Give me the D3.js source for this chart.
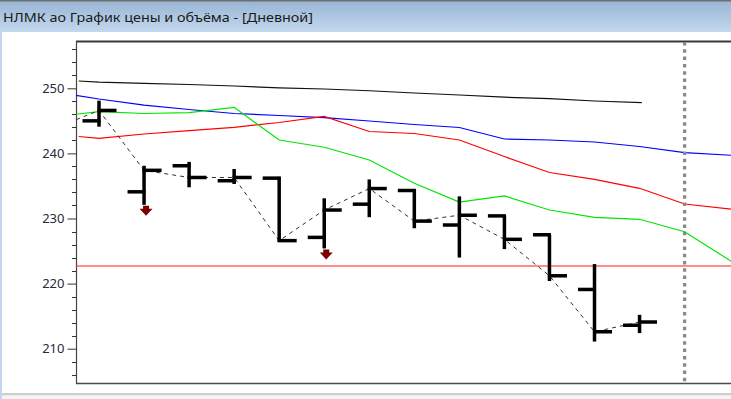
<!DOCTYPE html>
<html>
<head>
<meta charset="utf-8">
<script src="https://cdn.jsdelivr.net/npm/d3@7"></script>
<style>
  body { margin: 0; background: #fff; }
  svg { display: block; }
</style>
</head>
<body>
<div id="chart"></div>
<script>
// bars (daily OHLC), index 0..12
var barIdx = [0, 1, 2, 3, 4, 5, 6, 7, 8, 9, 10, 11, 12]
var open  = [245.0, 234.1, 238.1, 235.8, 236.2, 227.1, 232.2, 234.3, 229.0, 230.4, 227.5, 219.1, 213.6]
var high  = [248.1, 238.1, 238.7, 237.6, 236.4, 233.1, 236.0, 234.5, 233.4, 230.5, 227.5, 223.0, 215.2]
var low   = [244.1, 232.1, 234.8, 235.3, 226.4, 225.4, 230.2, 228.5, 224.0, 225.3, 220.4, 211.1, 212.4]
var close = [246.6, 237.4, 236.3, 236.3, 226.6, 231.3, 234.6, 229.6, 230.5, 226.8, 221.2, 212.6, 214.1]
var prevClose = 243.8

// signal arrows under bars
var sellIdx = [1, 5]

// indicator lines
var idxBlue  = [-0.55, 0, 1, 2, 3, 4, 5, 6, 7, 8, 9, 10, 11, 12, 13, 14.05]
var blue     = [248.97, 248.36, 247.43, 246.74, 246.13, 245.82, 245.51, 244.98, 244.44, 243.98, 242.21, 242.06, 241.75, 241.06, 240.11, 239.71]
var green    = [245.98, 246.41, 246.13, 246.25, 247.08, 242.06, 240.94, 238.99, 235.41, 232.53, 233.46, 231.31, 230.18, 229.88, 227.97, 223.36]
var idxRed   = [-0.45, 0, 1, 2, 3, 4, 5, 6, 7, 8, 9, 10, 11, 12, 13, 14.05]
var red      = [242.60, 242.32, 242.98, 243.49, 244.01, 244.75, 245.67, 243.36, 243.06, 242.06, 239.52, 237.07, 236.02, 234.64, 232.23, 231.41]
var idxBlack = [-0.45, 0, 1, 2, 3, 4, 5, 6, 7, 8, 9, 10, 11, 12.05]
var black    = [251.12, 250.94, 250.77, 250.58, 250.35, 250.08, 249.89, 249.62, 249.28, 248.97, 248.63, 248.40, 248.05, 247.79]

var levelLine = 222.7
var todayIdx = 13
var yLabels = [210, 220, 230, 240, 250]
var yMinor = [206, 208, 212, 214, 216, 218, 222, 224, 226, 228, 232, 234, 236, 238, 242, 244, 246, 248, 252, 254, 256]

var title = "НЛМК ао График цены и объёма - [Дневной]"

var W = 731, H = 399
var plot = { left: 76, top: 42, right: 731, bottom: 383 }

var svg = d3.select("#chart").append("svg")
    .attr("width", W)
    .attr("height", H)

// window chrome
var defs = svg.append("defs")
var grad = defs.append("linearGradient").attr("id", "tb").attr("x1", 0).attr("y1", 0).attr("x2", 0).attr("y2", 1)
grad.append("stop").attr("offset", "0%").attr("stop-color", "#97b4d4")
grad.append("stop").attr("offset", "100%").attr("stop-color", "#c3d8ee")
defs.append("clipPath").attr("id", "clip")
    .append("rect")
    .attr("x", plot.left).attr("y", plot.top)
    .attr("width", plot.right - plot.left).attr("height", plot.bottom - plot.top)

svg.append("rect").attr("x", 0).attr("y", 0).attr("width", W).attr("height", 32).attr("fill", "url(#tb)")
svg.append("rect").attr("x", 0).attr("y", 0).attr("width", W).attr("height", 1.5).attr("fill", "#6f6f6f")
svg.append("rect").attr("x", 0).attr("y", 32).attr("width", 2).attr("height", H - 32).attr("fill", "#c3d8ee")
svg.append("rect").attr("x", 2).attr("y", 393).attr("width", W - 2).attr("height", 2.5).attr("fill", "#cdcdcd")
svg.append("rect").attr("x", 2).attr("y", 395.5).attr("width", W - 2).attr("height", 4).attr("fill", "#f4f4f4")

svg.append("text")
    .attr("x", 3)
    .attr("y", 22)
    .attr("font-family", "'Noto Sans', sans-serif")
    .attr("font-size", 13)
    .attr("fill", "#1a1a1a")
    .attr("textLength", 310)
    .attr("lengthAdjust", "spacingAndGlyphs")
    .text(title)

var x = d3.scaleLinear()
    .domain([0, 13])
    .range([99, 684.6])
var y = d3.scaleLinear()
    .domain([210, 250])
    .range([348.7, 88.3])

// axis frame
svg.append("line")
    .attr("x1", plot.left).attr("x2", W)
    .attr("y1", plot.top - 0.5).attr("y2", plot.top - 0.5)
    .attr("stroke", "#3a3a3a").attr("stroke-width", 2)
svg.append("line")
    .attr("x1", plot.left).attr("x2", W)
    .attr("y1", plot.bottom + 0.5).attr("y2", plot.bottom + 0.5)
    .attr("stroke", "#4a4a4a").attr("stroke-width", 1.5)

var yAxis = d3.axisLeft(y)
    .tickValues(yLabels)
    .tickSize(9)
    .tickPadding(3)
    .tickFormat(d3.format("d"))
var gy = svg.append("g")
    .attr("transform", "translate(" + (plot.left + 0.5) + ",0)")
    .call(yAxis)
gy.select(".domain").remove()
gy.selectAll(".tick line").attr("stroke", "#333")
gy.selectAll(".tick text")
    .attr("font-family", "'Noto Sans', sans-serif")
    .attr("font-size", 13)
    .attr("fill", "#2a2a3a")
svg.append("line")
    .attr("x1", plot.left + 0.5).attr("x2", plot.left + 0.5)
    .attr("y1", plot.top - 1).attr("y2", plot.bottom + 1)
    .attr("stroke", "#444").attr("stroke-width", 1.2)
svg.append("g").selectAll("line")
    .data(yMinor)
    .join("line")
    .attr("x1", plot.left - 4).attr("x2", plot.left)
    .attr("y1", function (d) { return Math.round(y(d)) + 0.5 })
    .attr("y2", function (d) { return Math.round(y(d)) + 0.5 })
    .attr("stroke", "#333")

var g = svg.append("g").attr("clip-path", "url(#clip)")

// level line
g.append("line")
    .attr("x1", plot.left).attr("x2", W)
    .attr("y1", y(levelLine)).attr("y2", y(levelLine))
    .attr("stroke", "#ff1a1a").attr("stroke-width", 1.2)

function drawLine(idx, vals, color) {
    var line = d3.line()
        .x(function (d, i) { return x(idx[i]) })
        .y(function (d) { return y(d) })
    g.append("path")
        .datum(vals)
        .attr("d", line)
        .attr("fill", "none")
        .attr("stroke", color)
        .attr("stroke-width", 1.2)
}
drawLine(idxBlack, black, "#111")
drawLine(idxBlue, blue, "#0000ff")
drawLine(idxRed, red, "#ff0000")
drawLine(idxBlue, green, "#00e600")

// close line, dashed
var closeIdx = [-1].concat(barIdx)
var closeVals = [prevClose].concat(close)
g.append("path")
    .datum(closeVals)
    .attr("d", d3.line()
        .x(function (d, i) { return x(closeIdx[i]) })
        .y(function (d) { return y(d) }))
    .attr("fill", "none")
    .attr("stroke", "#333")
    .attr("stroke-width", 1)
    .attr("stroke-dasharray", "4,4")

// today marker
g.append("line")
    .attr("x1", x(todayIdx)).attr("x2", x(todayIdx))
    .attr("y1", plot.top).attr("y2", plot.bottom)
    .attr("stroke", "#8a8a8a")
    .attr("stroke-width", 3.3)
    .attr("stroke-dasharray", "3.5,3.8")

// OHLC bars
var bars = g.append("g").selectAll("g")
    .data(barIdx)
    .join("g")
bars.append("line")
    .attr("x1", function (d) { return x(d) }).attr("x2", function (d) { return x(d) })
    .attr("y1", function (d, i) { return y(high[i]) })
    .attr("y2", function (d, i) { return y(low[i]) })
    .attr("stroke", "#000").attr("stroke-width", 3.5)
bars.append("line")
    .attr("x1", function (d) { return x(d) - 16.5 }).attr("x2", function (d) { return x(d) + 1.5 })
    .attr("y1", function (d, i) { return y(open[i]) })
    .attr("y2", function (d, i) { return y(open[i]) })
    .attr("stroke", "#000").attr("stroke-width", 3.5)
bars.append("line")
    .attr("x1", function (d) { return x(d) - 1.5 }).attr("x2", function (d) { return x(d) + 17.5 })
    .attr("y1", function (d, i) { return y(close[i]) })
    .attr("y2", function (d, i) { return y(close[i]) })
    .attr("stroke", "#000").attr("stroke-width", 3.5)

// sell arrows
g.append("g").selectAll("path")
    .data(sellIdx)
    .join("path")
    .attr("d", function (d) {
        var cx = x(d) + 2, ty = y(low[d]) + 1
        var p = d3.path()
        p.moveTo(cx - 3, ty)
        p.lineTo(cx + 3, ty)
        p.lineTo(cx + 3, ty + 3)
        p.lineTo(cx + 6.5, ty + 3)
        p.lineTo(cx, ty + 10)
        p.lineTo(cx - 6.5, ty + 3)
        p.lineTo(cx - 3, ty + 3)
        p.closePath()
        return p.toString()
    })
    .attr("fill", "#7a0000")
</script>
</body>
</html>
